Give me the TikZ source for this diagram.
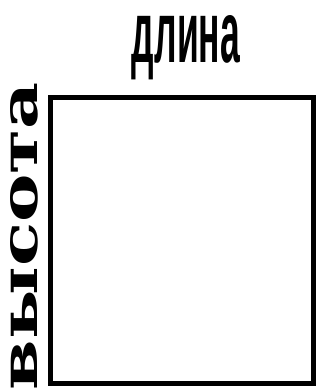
\documentclass[tikz,border=0pt]{standalone}
\usepackage{fontspec}
\usepackage{graphicx}
\newfontfamily\lenfont{Liberation Sans}
\newfontfamily\slabfont{DejaVu Serif}
\usetikzlibrary{positioning}

\begin{document}
\begin{tikzpicture}[
  x=1pt, y=1pt,
  areabox/.style={rectangle, draw=black, line width=5.5pt, fill=white,
                  minimum width=263pt, minimum height=286pt, inner sep=0pt},
  lenlbl/.style={inner sep=0pt, anchor=base},
  htlbl/.style={inner sep=0pt, anchor=base, rotate=90},
]
\useasboundingbox (0,0) rectangle (320,390);
% rectangle
\node[areabox] (area) at (182,149.5) {};
% length label
\node[lenlbl] (length) at (186,327)
  {\resizebox{108pt}{47pt}{\lenfont\bfseries длина}};
% height label
\node[htlbl] (height) at (37,154)
  {\resizebox{308pt}{27pt}{\slabfont\bfseries высота}};
\end{tikzpicture}
\end{document}
